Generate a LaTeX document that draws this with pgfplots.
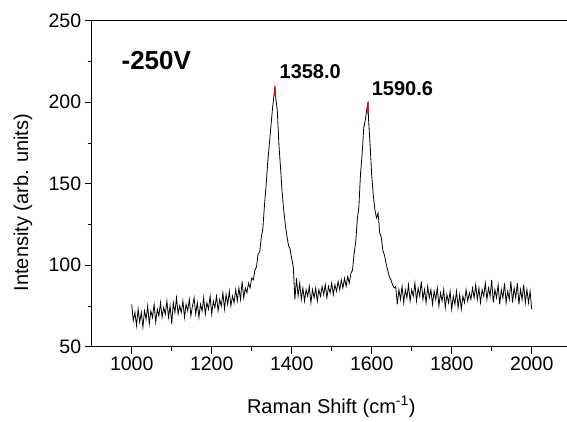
\documentclass[border=0pt]{standalone}
\usepackage{pgfplots}
\pgfplotsset{compat=1.18}
\usepackage{fontspec}
\setmainfont{Liberation Sans}
\begin{document}
\begin{tikzpicture}
\begin{axis}[
    scale only axis,
    width=480pt, height=326pt,
    xmin=900, xmax=2100,
    ymin=50, ymax=250,
    xtick={1000,1200,1400,1600,1800,2000},
    ytick={50,100,150,200,250},
    minor x tick num=1,
    minor y tick num=1,
    tick align=outside,
    tick pos=left,
    major tick length=7pt,
    minor tick length=4pt,
    axis line style={line width=0.8pt},
    every tick/.style={line width=0.8pt, black},
    ticklabel style={font=\fontsize{19.5}{22}\selectfont},
    /pgf/number format/assume math mode=true,
    /pgf/number format/1000 sep={},
]
% Raman spectrum, -250V
\addplot[black, line width=0.8pt] coordinates {
(1000,76) (1004,66) (1008,71) (1012,63) (1016,73) (1020,65) (1024,71) (1028,62)
(1032,72) (1036,67) (1040,75) (1044,64) (1048,72) (1052,68) (1056,76) (1060,65)
(1064,73) (1068,69) (1072,77) (1076,68) (1080,74) (1084,70) (1088,78) (1092,68)
(1096,75) (1100,64) (1104,77) (1108,71) (1112,80) (1116,70) (1120,75) (1124,71)
(1128,78) (1132,68) (1136,76) (1140,72) (1144,79) (1148,69) (1152,75) (1156,80)
(1160,70) (1164,77) (1168,68) (1172,76) (1176,72) (1180,80) (1184,70) (1188,77)
(1192,73) (1196,81) (1200,70) (1204,78) (1208,74) (1212,81) (1216,72) (1220,79)
(1224,75) (1228,83) (1232,73) (1236,82) (1240,76) (1244,84) (1248,75) (1252,81)
(1256,77) (1260,85) (1264,78) (1268,86) (1272,79) (1276,90) (1280,80) (1284,86)
(1288,83) (1292,89) (1296,86) (1300,92) (1304,91) (1308,97) (1312,99) (1316,107)
(1320,108) (1324,117) (1328,123) (1332,137) (1336,149) (1340,163) (1344,174) (1348,185)
(1352,196) (1356,205) (1358,209) (1360,203) (1364,195) (1368,174) (1372,160) (1376,145)
(1380,134) (1384,125) (1388,118) (1392,112) (1396,110) (1400,104) (1404,99) (1408,79)
(1412,92) (1416,81) (1420,89) (1424,79) (1428,86) (1432,78) (1436,85) (1440,81)
(1444,87) (1448,77) (1452,85) (1456,80) (1460,86) (1464,78) (1468,85) (1472,81)
(1476,87) (1480,82) (1484,88) (1488,80) (1492,87) (1496,83) (1500,89) (1504,82)
(1508,88) (1512,84) (1516,90) (1520,85) (1524,91) (1528,86) (1532,92) (1536,87)
(1540,93) (1544,89) (1548,95) (1552,97) (1556,107) (1560,114) (1564,128) (1568,136)
(1572,156) (1576,168) (1580,184) (1584,189) (1588,196) (1590.6,199) (1592,190) (1596,174)
(1600,155) (1604,143) (1608,134) (1612,129) (1616,132) (1620,120) (1624,117) (1628,109)
(1632,106) (1636,101) (1640,97) (1644,93) (1648,91) (1652,88) (1656,86) (1660,87)
(1664,76) (1668,85) (1672,79) (1676,87) (1680,77) (1684,85) (1688,80) (1692,88)
(1696,78) (1700,85) (1704,81) (1708,89) (1712,78) (1716,86) (1720,81) (1724,90)
(1728,79) (1732,85) (1736,77) (1740,87) (1744,80) (1748,85) (1752,76) (1756,84)
(1760,79) (1764,86) (1768,75) (1772,83) (1776,78) (1780,85) (1784,74) (1788,82)
(1792,77) (1796,84) (1800,73) (1804,81) (1808,76) (1812,84) (1816,74) (1820,82)
(1824,73) (1828,81) (1832,77) (1836,85) (1840,78) (1844,83) (1848,79) (1852,86)
(1856,80) (1860,88) (1864,79) (1868,86) (1872,77) (1876,85) (1880,81) (1884,89)
(1888,79) (1892,86) (1896,81) (1900,91) (1904,77) (1908,85) (1912,80) (1916,88)
(1920,76) (1924,85) (1928,80) (1932,89) (1936,77) (1940,84) (1944,79) (1948,90)
(1952,77) (1956,86) (1960,80) (1964,89) (1968,76) (1972,85) (1976,79) (1980,88)
(1984,77) (1988,85) (1992,77) (1996,84) (2000,73)
};
% peak markers
\addplot[red, line width=1.4pt, opacity=0.8] coordinates {(1358,203.5) (1358,209.5)};
\addplot[red, line width=1.4pt, opacity=0.8] coordinates {(1590.6,193) (1590.6,200)};
\node[anchor=base west, font=\fontsize{26}{30}\selectfont\bfseries] at (axis cs:966,220) {-250V};
\node[anchor=base west, font=\fontsize{20}{24}\selectfont\bfseries] at (axis cs:1361,214.7) {1358.0};
\node[anchor=base west, font=\fontsize{20}{24}\selectfont\bfseries] at (axis cs:1591.5,204.4) {1590.6};
\end{axis}
\node[rotate=90, font=\fontsize{20}{24}\selectfont] at (-68.7pt,144.2pt) {Intensity (arb. units)};
\node[anchor=base, font=\fontsize{20}{24}\selectfont] at (239.6pt,-66.3pt) {Raman Shift (cm\textsuperscript{-1})};
\pgfresetboundingbox
\path[use as bounding box] (-91.7pt,-74.3pt) rectangle (475.3pt,346.7pt);
\end{tikzpicture}
\end{document}
